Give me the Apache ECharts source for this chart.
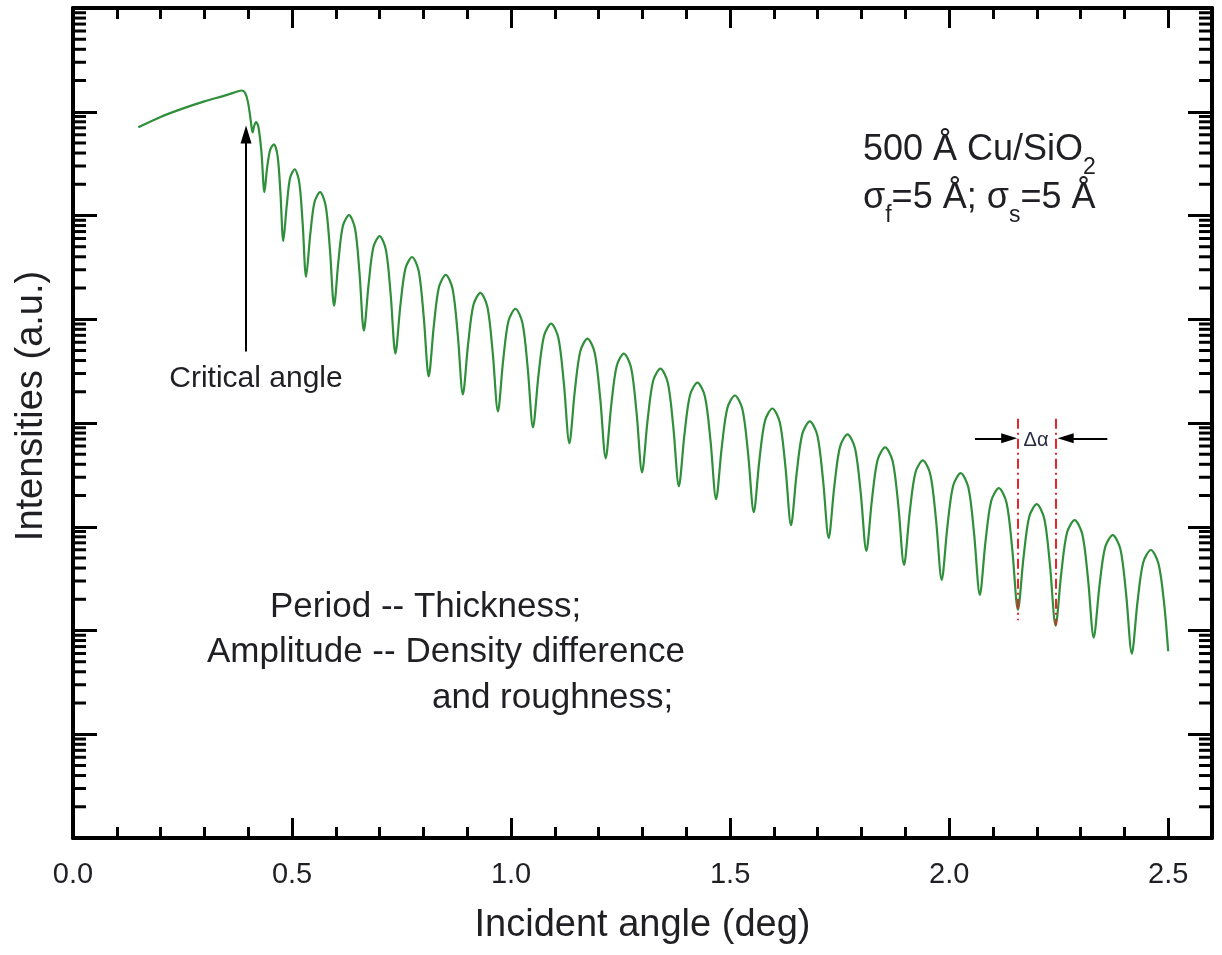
<!DOCTYPE html>
<html>
<head>
<meta charset="utf-8">
<title>XRR 500 Å Cu/SiO2</title>
<script src="https://cdn.jsdelivr.net/npm/echarts@6/dist/echarts.min.js"></script>
<style>
  html, body { margin: 0; padding: 0; background: #fff; }
  #chart { width: 1222px; height: 955px; }
</style>
</head>
<body>
<div id="chart"></div>
<script>
// incident angle (deg) and log10 of the reflected intensity (a.u.)
const angle = [
  0.149, 0.200, 0.250, 0.300, 0.350, 0.375, 0.386, 0.393, 0.399, 0.404, 0.408,
  0.410, 0.414, 0.418, 0.423, 0.430,
  0.437, 0.443, 0.450, 0.4585, 0.467, 0.4735,
  0.480, 0.488, 0.4956, 0.506, 0.5164, 0.5242,
  0.532, 0.5416, 0.5512, 0.564, 0.5768, 0.5864,
  0.596, 0.606, 0.616, 0.630, 0.644, 0.654,
  0.664, 0.675, 0.6856, 0.700, 0.7144, 0.7252,
  0.736, 0.7474, 0.7588, 0.774, 0.7892, 0.8006,
  0.812, 0.8237, 0.8354, 0.851, 0.8666, 0.8783,
  0.890, 0.902, 0.914, 0.930, 0.946, 0.958,
  0.970, 0.982, 0.994, 1.010, 1.026, 1.038,
  1.050, 1.0625, 1.075, 1.0915, 1.108, 1.1205,
  1.133, 1.1455, 1.158, 1.1745, 1.191, 1.2035,
  1.216, 1.2285, 1.241, 1.2575, 1.274, 1.2865,
  1.299, 1.3116, 1.3242, 1.341, 1.3578, 1.3704,
  1.383, 1.3958, 1.4085, 1.4255, 1.4425, 1.4553,
  1.468, 1.4809, 1.4938, 1.511, 1.5282, 1.5411,
  1.554, 1.5668, 1.5795, 1.5965, 1.6135, 1.6263,
  1.639, 1.6519, 1.6648, 1.682, 1.6992, 1.7121,
  1.725, 1.7379, 1.7508, 1.768, 1.7852, 1.7981,
  1.811, 1.8239, 1.8368, 1.854, 1.8712, 1.8841,
  1.897, 1.9099, 1.9228, 1.940, 1.9572, 1.9701,
  1.983, 1.996, 2.009, 2.0265, 2.044, 2.057,
  2.070, 2.083, 2.096, 2.1135, 2.131, 2.144,
  2.157, 2.1699, 2.1828, 2.200, 2.2172, 2.2301,
  2.243, 2.256, 2.269, 2.2865, 2.304, 2.317,
  2.330, 2.343, 2.356, 2.3735, 2.391, 2.404,
  2.417, 2.430, 2.443, 2.4605, 2.478, 2.491,
  2.500
]
const logI = [
  6.85, 6.95, 7.03, 7.10, 7.16, 7.195, 7.205, 7.18, 7.10, 6.97, 6.84,
  6.80, 6.87, 6.90, 6.86, 6.62,
  6.225, 6.456, 6.631, 6.686, 6.574, 6.220,
  5.754, 6.100, 6.363, 6.446, 6.321, 5.927,
  5.408, 5.817, 6.127, 6.225, 6.094, 5.678,
  5.130, 5.567, 5.899, 6.004, 5.870, 5.447,
  4.890, 5.346, 5.693, 5.802, 5.666, 5.236,
  4.669, 5.135, 5.488, 5.600, 5.462, 5.024,
  4.448, 4.938, 5.310, 5.428, 5.290, 4.852,
  4.275, 4.765, 5.137, 5.255, 5.118, 4.683,
  4.111, 4.606, 4.982, 5.101, 4.964, 4.530,
  3.958, 4.458, 4.837, 4.957, 4.819, 4.381,
  3.804, 4.309, 4.692, 4.813, 4.675, 4.237,
  3.660, 4.165, 4.548, 4.669, 4.532, 4.097,
  3.525, 4.025, 4.404, 4.524, 4.388, 3.958,
  3.391, 3.891, 4.270, 4.390, 4.255, 3.828,
  3.266, 3.766, 4.145, 4.265, 4.130, 3.703,
  3.141, 3.641, 4.020, 4.140, 4.005, 3.578,
  3.016, 3.516, 3.895, 4.015, 3.880, 3.453,
  2.891, 3.391, 3.770, 3.890, 3.755, 3.329,
  2.767, 3.266, 3.645, 3.765, 3.629, 3.199,
  2.632, 3.136, 3.519, 3.640, 3.502, 3.064,
  2.488, 3.002, 3.393, 3.516, 3.375, 2.930,
  2.344, 2.858, 3.249, 3.372, 3.231, 2.786,
  2.200, 2.709, 3.096, 3.218, 3.077, 2.632,
  2.046, 2.555, 2.942, 3.064, 2.928, 2.498,
  1.931, 2.426, 2.801, 2.920, 2.783, 2.349,
  1.777, 2.277, 2.656, 2.776, 2.640, 2.250,
  1.800
]

// axis ranges
const xMin = 0, xMax = 2.6
const yMin = 0, yMax = 8   // decades
const xLabels = [0, 0.5, 1.0, 1.5, 2.0, 2.5]

// the two fringe minima marked with delta alpha
const dAlphaLeft = 2.157
const dAlphaRight = 2.244

const FONT = 'Liberation Sans, Arial, sans-serif'
const INK = '#1f1f24'

// log minor ticks 2..9 inside each decade
const minorTicks = []
for (let n = yMin; n < yMax; n++) {
  for (let k = 2; k <= 9; k++) minorTicks.push([xMin, n + Math.log10(k)])
}

function xAxisDef(position, interval, tickLen, withLabels) {
  return {
    type: 'value', position: position, min: xMin, max: xMax, interval: interval,
    axisLine: { show: withLabels !== null, onZero: false, lineStyle: { color: '#000', width: 4 } },
    axisTick: { show: true, inside: true, length: tickLen, lineStyle: { color: '#000', width: 3 } },
    axisLabel: withLabels ? {
      show: true, margin: 22, fontSize: 29, color: INK, fontFamily: FONT,
      formatter: function (v) {
        const hit = xLabels.find(function (t) { return Math.abs(t - v) < 1e-6 })
        return hit === undefined ? '' : hit.toFixed(1)
      }
    } : { show: false },
    splitLine: { show: false }
  }
}

function yAxisDef(position) {
  return {
    type: 'value', position: position, min: yMin, max: yMax, interval: 1,
    axisLine: { show: true, onZero: false, lineStyle: { color: '#000', width: 4 } },
    axisTick: { show: true, inside: true, length: 24, lineStyle: { color: '#000', width: 3 } },
    axisLabel: { show: false },
    splitLine: { show: false }
  }
}

const xBottom = xAxisDef('bottom', 0.1, 11, true)
xBottom.name = 'Incident angle (deg)'
xBottom.nameLocation = 'middle'
xBottom.nameGap = 69
xBottom.nameTextStyle = { fontSize: 38, color: INK, fontFamily: FONT }

const chart = echarts.init(document.getElementById('chart'), null, { renderer: 'canvas' })

chart.setOption({
  animation: false,
  backgroundColor: '#fff',
  grid: { left: 73, right: 10, top: 8, bottom: 117, containLabel: false },
  xAxis: [
    xBottom,
    xAxisDef('bottom', 0.5, 20, null),
    xAxisDef('top', 0.1, 11, false),
    xAxisDef('top', 0.5, 20, null)
  ],
  yAxis: [yAxisDef('left'), yAxisDef('right')],
  series: [
    {
      type: 'line',
      data: angle.map(function (a, i) { return [a, logI[i]] }),
      smooth: 0.3,
      showSymbol: false,
      lineStyle: { color: '#2f8f3a', width: 2.2 },
      z: 3,
      markLine: {
        silent: true,
        animation: false,
        label: { show: false },
        data: [
          // critical angle arrow
          [
            { coord: [0.395, 4.69], symbol: 'none', lineStyle: { color: '#000', width: 2, type: 'solid' } },
            { coord: [0.395, 6.78], symbol: 'triangle', symbolSize: [11, 18] }
          ],
          // delta alpha guide lines
          [
            { coord: [dAlphaLeft, 4.04], symbol: 'none', lineStyle: { color: '#e8262a', width: 2, type: [10, 4, 2, 4] } },
            { coord: [dAlphaLeft, 2.10], symbol: 'none' }
          ],
          [
            { coord: [dAlphaRight, 4.04], symbol: 'none', lineStyle: { color: '#e8262a', width: 2, type: [10, 4, 2, 4] } },
            { coord: [dAlphaRight, 2.05], symbol: 'none' }
          ],
          // delta alpha arrows
          [
            { coord: [2.059, 3.852], symbol: 'none', lineStyle: { color: '#000', width: 2, type: 'solid' } },
            { coord: [2.137, 3.852], symbol: 'triangle', symbolSize: [10, 16] }
          ],
          [
            { coord: [2.361, 3.852], symbol: 'none', lineStyle: { color: '#000', width: 2, type: 'solid' } },
            { coord: [2.266, 3.852], symbol: 'triangle', symbolSize: [10, 16] }
          ]
        ]
      }
    },
    {
      type: 'custom',
      silent: true,
      clip: false,
      z: 5,
      data: minorTicks,
      renderItem: function (params, api) {
        const l = api.coord([xMin, api.value(1)])
        const r = api.coord([xMax, api.value(1)])
        return {
          type: 'group',
          children: [
            { type: 'line', shape: { x1: l[0], y1: l[1], x2: l[0] + 13, y2: l[1] }, style: { stroke: '#000', lineWidth: 3 } },
            { type: 'line', shape: { x1: r[0], y1: r[1], x2: r[0] - 13, y2: r[1] }, style: { stroke: '#000', lineWidth: 3 } }
          ]
        }
      }
    }
  ],
  graphic: [
    {
      type: 'text', x: 32, y: 406, rotation: Math.PI / 2, silent: true,
      style: { text: 'Intensities (a.u.)', fontSize: 38, fontFamily: FONT, fill: INK, align: 'center', verticalAlign: 'middle' }
    },
    {
      type: 'text', x: 256, y: 379, silent: true,
      style: { text: 'Critical angle', fontSize: 30, fontFamily: FONT, fill: INK, align: 'center', verticalAlign: 'middle' }
    },
    {
      type: 'text', x: 863, y: 131, silent: true,
      style: {
        text: '{m|500 Å Cu/SiO}{s|2}\n{m|σ}{s|f}{m|=5 Å; σ}{s|s}{m|=5 Å}',
        fontFamily: FONT, fill: INK, align: 'left', verticalAlign: 'top',
        rich: {
          m: { fontSize: 36, lineHeight: 48, padding: [0, 0, 10, 0], fontFamily: FONT, fill: INK },
          s: { fontSize: 23, lineHeight: 22, verticalAlign: 'bottom', fontFamily: FONT, fill: INK }
        }
      }
    },
    {
      type: 'text', x: 270, y: 607, silent: true,
      style: { text: 'Period -- Thickness;', fontSize: 35, fontFamily: FONT, fill: INK, align: 'left', verticalAlign: 'middle' }
    },
    {
      type: 'text', x: 207, y: 652, silent: true,
      style: { text: 'Amplitude -- Density difference', fontSize: 35, fontFamily: FONT, fill: INK, align: 'left', verticalAlign: 'middle' }
    },
    {
      type: 'text', x: 432, y: 698, silent: true,
      style: { text: 'and roughness;', fontSize: 35, fontFamily: FONT, fill: INK, align: 'left', verticalAlign: 'middle' }
    },
    {
      type: 'text', x: 1036, y: 440, silent: true,
      style: { text: 'Δα', fontSize: 20, fontFamily: FONT, fill: '#2a2a40', align: 'center', verticalAlign: 'middle' }
    }
  ]
})
</script>
</body>
</html>
